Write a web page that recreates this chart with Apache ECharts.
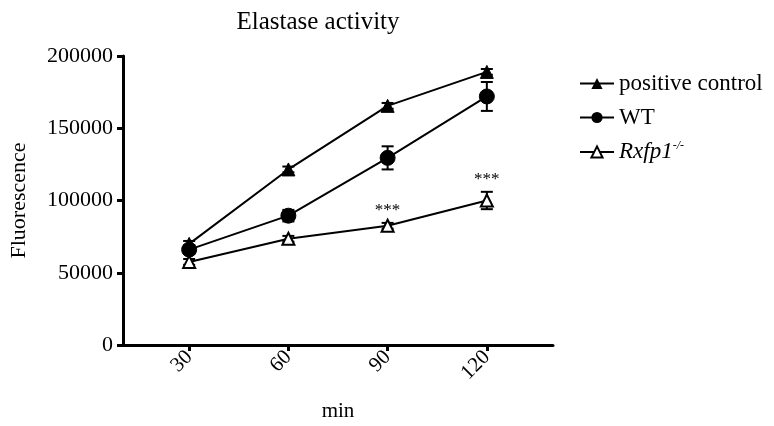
<!DOCTYPE html>
<html>
<head>
<meta charset="utf-8">
<script src="https://cdn.jsdelivr.net/npm/echarts@6/dist/echarts.min.js"></script>
<style>
  html, body { margin: 0; padding: 0; background: #fff; }
  #chart { width: 774px; height: 426px; }
</style>
</head>
<body>
<div id="chart"></div>
<script>
// time points (min)
var times = [30, 60, 90, 120];

// mean fluorescence per group
var posCtrl = [70000, 121500, 165500, 189000];
var wt = [66000, 89500, 129500, 172000];
var rxfp1 = [57500, 73500, 82500, 100000];

// error bars (SEM)
var posCtrlErr = [2000, 2000, 2000, 2000];
var wtErr = [3000, 4000, 8000, 10000];
var rxfp1Err = [2000, 2000, 2000, 6000];

// significance marks for Rxfp1-/-
var sigMarks = ['', '', '***', '***'];

var serif = 'Liberation Serif';

function pairs(vals) {
  return times.map(function (t, i) { return [t, vals[i]]; });
}

function errData(vals, errs) {
  return times.map(function (t, i) { return [t, vals[i] - errs[i], vals[i] + errs[i]]; });
}

function errorItem(params, api) {
  var x = api.value(0);
  var top = api.coord([x, api.value(2)]);
  var bot = api.coord([x, api.value(1)]);
  var w = 6;
  var st = { stroke: '#000', lineWidth: 2 };
  return {
    type: 'group',
    children: [
      { type: 'line', shape: { x1: top[0], y1: top[1], x2: bot[0], y2: bot[1] }, style: st },
      { type: 'line', shape: { x1: top[0] - w, y1: top[1], x2: top[0] + w, y2: top[1] }, style: st },
      { type: 'line', shape: { x1: bot[0] - w, y1: bot[1], x2: bot[0] + w, y2: bot[1] }, style: st }
    ]
  };
}

function starItem(params, api) {
  var p = api.coord([api.value(0), api.value(1)]);
  var txt = sigMarks[params.dataIndex];
  return {
    type: 'text',
    x: p[0],
    y: p[1] - 4,
    style: { text: txt, fill: '#000', font: '17px ' + serif, align: 'center', verticalAlign: 'bottom' }
  };
}

var chart = echarts.init(document.getElementById('chart'));

var lineStyle = { color: '#000', width: 2 };

chart.setOption({
  animation: false,
  title: {
    text: 'Elastase activity',
    left: 313,
    top: 5,
    textAlign: 'center',
    textStyle: { fontFamily: serif, fontSize: 25, fontWeight: 'normal', color: '#000' }
  },
  legend: {
    orient: 'vertical',
    left: 574,
    top: 67,
    itemWidth: 34,
    itemHeight: 14,
    itemGap: 11,
    data: ['positive control', 'WT', 'Rxfp1'],
    textStyle: {
      fontFamily: serif, fontSize: 23, color: '#000',
      rich: {
        i: { fontFamily: serif, fontSize: 23, fontStyle: 'italic', color: '#000' },
        s: { fontFamily: serif, fontSize: 12, fontStyle: 'italic', color: '#000', padding: [0, 0, 12, 0] }
      }
    },
    formatter: function (name) {
      if (name === 'Rxfp1') return '{i|Rxfp1}{s|-/-}';
      return name;
    }
  },
  grid: { left: 123, right: 221, top: 56, bottom: 81, outerBoundsMode: 'none' },
  xAxis: {
    type: 'value',
    min: 10,
    max: 140,
    name: 'min',
    nameLocation: 'middle',
    nameGap: 56,
    nameTextStyle: { fontFamily: serif, fontSize: 21, color: '#000' },
    axisLine: { lineStyle: { color: '#000', width: 3 } },
    axisTick: { customValues: times, length: 6, lineStyle: { color: '#000', width: 3 } },
    axisLabel: {
      customValues: times,
      rotate: 45,
      margin: 9,
      fontFamily: serif, fontSize: 21, color: '#000'
    },
    splitLine: { show: false }
  },
  yAxis: {
    type: 'value',
    min: 0,
    max: 200000,
    interval: 50000,
    name: 'Fluorescence',
    nameLocation: 'middle',
    nameGap: 93,
    nameTextStyle: { fontFamily: serif, fontSize: 22, color: '#000' },
    axisLine: { show: true, lineStyle: { color: '#000', width: 3 } },
    axisTick: { show: true, length: 6, lineStyle: { color: '#000', width: 3 } },
    axisLabel: {
      margin: 10, fontFamily: serif, fontSize: 22, color: '#000',
      formatter: function (v) { return String(v); }
    },
    splitLine: { show: false }
  },
  series: [
    { type: 'custom', renderItem: errorItem, data: errData(posCtrl, posCtrlErr), z: 1, silent: true },
    { type: 'custom', renderItem: errorItem, data: errData(wt, wtErr), z: 1, silent: true },
    { type: 'custom', renderItem: errorItem, data: errData(rxfp1, rxfp1Err), z: 1, silent: true },
    {
      name: 'positive control', type: 'line', data: pairs(posCtrl), z: 3,
      symbol: 'triangle', symbolSize: 13, lineStyle: lineStyle,
      itemStyle: { color: '#000', borderColor: '#000' }
    },
    {
      name: 'WT', type: 'line', data: pairs(wt), z: 3,
      symbol: 'circle', symbolSize: 15, lineStyle: lineStyle,
      itemStyle: { color: '#000', borderColor: '#000' }
    },
    {
      name: 'Rxfp1', type: 'line', data: pairs(rxfp1), z: 4,
      symbol: 'triangle', symbolSize: 12, lineStyle: lineStyle,
      itemStyle: { color: '#fff', borderColor: '#000', borderWidth: 2 }
    },
    {
      type: 'custom', renderItem: starItem, data: errData(rxfp1, rxfp1Err).map(function (d) { return [d[0], d[2]]; }),
      z: 5, silent: true
    }
  ]
});
</script>
</body>
</html>
